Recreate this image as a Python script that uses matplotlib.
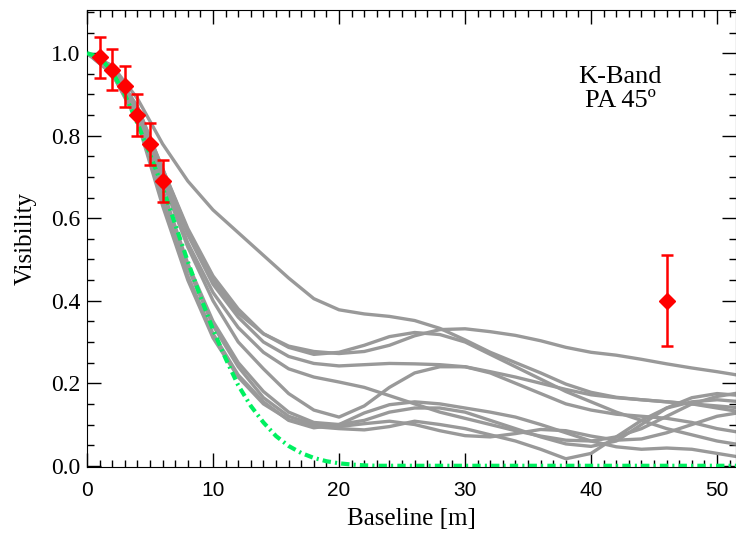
import numpy as np
import matplotlib
matplotlib.use("Agg")
import matplotlib.pyplot as plt
from matplotlib.ticker import MultipleLocator

# Baseline grid for the model curves (m)
base = [0, 2, 4, 6, 8, 10, 12, 14, 16, 18, 20, 22, 24, 26, 28,
        30, 32, 34, 36, 38, 40, 42, 44, 46, 48, 50, 52]

# grey model curves
vis_a = [1.0, .97, .89, .78, .69, .62, .565, .51, .455, .405, .378, .368, .362, .352, .333,
         .305, .275, .25, .225, .198, .178, .166, .16, .155, .15, .14, .13]
vis_b = [1.0, .965, .87, .72, .57, .45, .37, .32, .29, .277, .272, .277, .292, .315, .33,
         .332, .325, .316, .303, .287, .275, .268, .258, .247, .237, .228, .218]
vis_c = [1.0, .965, .87, .72, .575, .46, .38, .32, .287, .27, .275, .292, .313, .323, .318,
         .30, .27, .24, .21, .18, .155, .13, .11, .09, .075, .06, .05]
vis_d = [1.0, .96, .865, .71, .56, .44, .36, .30, .265, .248, .242, .245, .248, .247, .245,
         .24, .228, .215, .2, .185, .172, .165, .16, .155, .15, .145, .14]
vis_e = [1.0, .96, .86, .70, .54, .42, .335, .275, .235, .215, .203, .19, .17, .15, .13,
         .115, .10, .085, .072, .062, .06, .07, .09, .12, .15, .168, .178]
vis_f = [1.0, .96, .86, .69, .53, .40, .30, .235, .175, .135, .118, .145, .19, .225, .24,
         .24, .225, .20, .175, .15, .135, .125, .12, .115, .105, .09, .08]
vis_g = [1.0, .955, .85, .67, .49, .35, .25, .18, .13, .105, .10, .11, .13, .14, .14,
         .13, .11, .09, .07, .053, .047, .06, .10, .14, .165, .175, .17]
vis_h = [1.0, .955, .845, .66, .48, .34, .24, .165, .12, .10, .095, .102, .108, .10, .085,
         .073, .07, .078, .088, .085, .072, .062, .065, .08, .10, .12, .13]
vis_i = [1.0, .95, .84, .64, .46, .32, .22, .155, .11, .092, .10, .128, .148, .155, .15,
         .14, .13, .118, .10, .08, .06, .046, .04, .043, .04, .03, .02]
vis_j = [1.0, .95, .835, .63, .45, .31, .215, .15, .112, .095, .09, .087, .095, .108, .10,
         .09, .075, .06, .04, .017, .03, .07, .11, .14, .155, .16, .155]
models = [vis_a, vis_b, vis_c, vis_d, vis_e, vis_f, vis_g, vis_h, vis_i, vis_j]

# green gaussian-like curve
gauss_x = [0, 1, 2, 3, 4, 5, 6, 7, 8, 9, 10, 11, 12, 13, 14, 15, 16, 17,
           18, 19, 20, 21, 22, 23, 30, 40, 52]
gauss_v = [1.0, .99, .955, .90, .83, .755, .675, .585, .495, .41, .33, .26, .195,
           .145, .105, .072, .048, .031, .019, .011, .006, .003, .001, 0, 0, 0, 0]

# measured visibilities
obs_x = [1, 2, 3, 4, 5, 6, 46]
obs_v = [0.99, 0.96, 0.92, 0.85, 0.78, 0.69, 0.40]
obs_err = [0.05, 0.05, 0.05, 0.05, 0.05, 0.05, 0.11]

serif = ["Liberation Serif", "DejaVu Serif"]
plt.rcParams["font.family"] = serif

fig = plt.figure(figsize=(7.36, 5.33), dpi=100)
ax = fig.add_axes([0.1182, 0.1238, 0.8818, 0.857])

for v in models:
    ax.plot(base, v, color="#999999", lw=2.4, solid_capstyle="round",
            solid_joinstyle="round", zorder=2)

ax.plot(gauss_x, gauss_v, color="#00f060", lw=3, linestyle=(0, (2, 1, 0.5, 1)), zorder=3)

ax.errorbar(obs_x, obs_v, yerr=obs_err, fmt="D", color="red", ms=8,
            elinewidth=1.8, capsize=4, capthick=1.8, zorder=4)

ax.text(42.3, 0.913, "K-Band\nPA 45º", ha="center", va="center", fontsize=19,
        linespacing=1.1)

ax.set_xlim(0, 51.5)
ax.set_ylim(-0.003, 1.104)
ax.xaxis.set_major_locator(MultipleLocator(10))
ax.xaxis.set_minor_locator(MultipleLocator(1))
ax.yaxis.set_major_locator(MultipleLocator(0.2))
ax.yaxis.set_minor_locator(MultipleLocator(0.05))
ax.yaxis.set_major_formatter(plt.FuncFormatter(lambda v, p: f"{v:.1f}"))
ax.tick_params(which="both", direction="in", top=True, right=True, width=1)
ax.tick_params(which="major", length=10)
ax.tick_params(which="minor", length=5)
ax.tick_params(axis="y", labelsize=17, pad=5)
ax.tick_params(axis="x", labelsize=15, pad=10)
for lab in ax.get_xticklabels():
    lab.set_family(["Liberation Sans", "DejaVu Sans"])

ax.set_xlabel("Baseline [m]", fontsize=18, labelpad=6)
ax.set_ylabel("Visibility", fontsize=18, labelpad=10)

fig.savefig("out.png", dpi=100)
